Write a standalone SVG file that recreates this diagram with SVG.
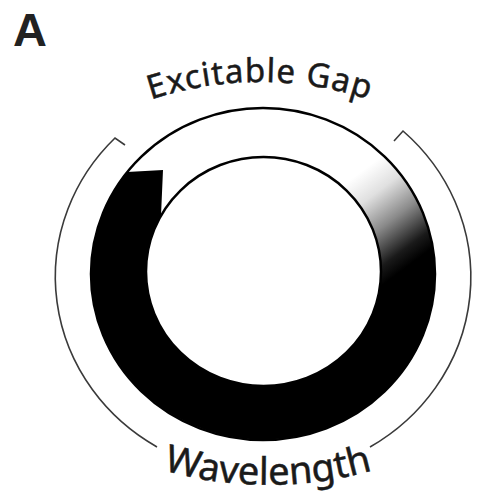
<svg xmlns="http://www.w3.org/2000/svg" width="477" height="495" viewBox="0 0 477 495">
  <style>
    .lbl { font-family: "Noto Sans", "Open Sans", sans-serif; fill: #1a1a1a; stroke: #1a1a1a; stroke-width: 0.5; }
    .ring { fill: none; stroke: #000; stroke-width: 2.5; }
    .bracket { fill: none; stroke: #3a3a3a; stroke-width: 1.6; stroke-linejoin: miter; }
  </style>
  <defs>
    <linearGradient id="fade" gradientUnits="userSpaceOnUse" x1="370" y1="165" x2="432" y2="248">
      <stop offset="0" stop-color="#ffffff"/>
      <stop offset="0.25" stop-color="#e0e0e0"/>
      <stop offset="0.55" stop-color="#8a8a8a"/>
      <stop offset="0.85" stop-color="#1a1a1a"/>
      <stop offset="1" stop-color="#000000"/>
    </linearGradient>
    <path id="topArc" d="M110,116.3 A345,345 0 0 1 410,116.3"/>
    <path id="botArc" d="M118,454.1 A380,380 0 0 0 418,454.1"/>
  </defs>
  <rect width="477" height="495" fill="#ffffff"/>

  <g id="panel-label">
    <text x="13" y="46" font-family="'Liberation Sans', Arial, sans-serif" font-size="47" font-weight="bold" fill="#222">A</text>
  </g>

  <g id="wavefront">
    <path d="M418.9,344.2 A172,166 0 0 0 321.8,118 L303.7,163.9 A117.5,114.5 0 0 1 370,319.9 Z" fill="url(#fade)"/>
    <path d="M127,172 A172,166 0 1 0 429.1,317 L377,301.1 A117.5,114.5 0 1 1 161,215.5 L163,170 Z" fill="#000"/>
  </g>

  <g id="circuit">
    <ellipse class="ring" cx="263" cy="274" rx="172" ry="166"/>
    <ellipse class="ring" cx="263.5" cy="271.5" rx="117.5" ry="114.5"/>
  </g>

  <g id="connectors">
    <path class="bracket" d="M125,145 L115,138 A208,198 0 0 0 157,447"/>
    <path class="bracket" d="M394,141 L403,131 A208,198 0 0 1 370,447"/>
  </g>

  <g id="excitable-gap">
    <text class="lbl" font-size="33" letter-spacing="1"><textPath href="#topArc" startOffset="50%" text-anchor="middle">Excitable Gap</textPath></text>
  </g>
  <g id="wavelength">
    <text class="lbl" font-size="38"><textPath href="#botArc" startOffset="50%" text-anchor="middle">Wavelength</textPath></text>
  </g>
</svg>
